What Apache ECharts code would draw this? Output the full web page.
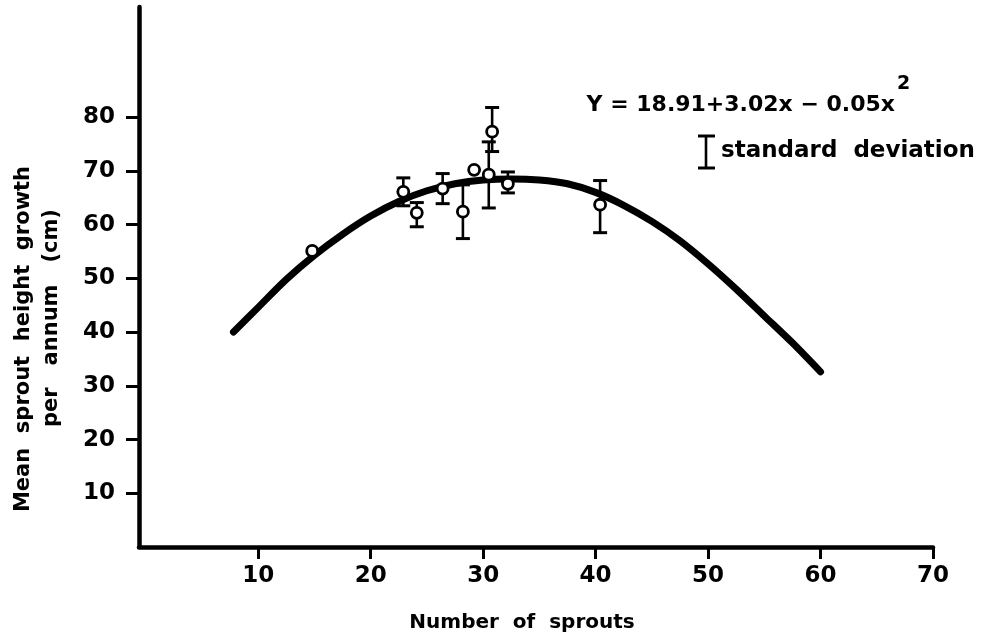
<!DOCTYPE html>
<html>
<head>
<meta charset="utf-8">
<script src="https://cdn.jsdelivr.net/npm/echarts@6/dist/echarts.min.js"></script>
<style>
  html, body { margin: 0; padding: 0; background: #fff; }
  #chart { width: 989px; height: 642px; }
</style>
</head>
<body>
<div id="chart"></div>
<script>
// fitted curve
var curveX = [7.8, 10, 12.5, 15, 17.5, 20, 22.5, 25, 27.5, 30, 32.5, 35, 37.5, 40, 42.5, 45, 47.5, 50, 52.5, 55, 57.5, 60];
var curveY = [40, 44.6, 49.8, 54.3, 58.2, 61.6, 64.3, 66.3, 67.6, 68.3, 68.5, 68.3, 67.6, 66.0, 63.6, 60.6, 57.0, 52.7, 48.0, 43.0, 38.0, 32.6];

// observed means and standard deviation bars (null = no bar drawn)
var pointX = [14.8, 22.9, 24.1, 26.4, 28.2, 29.2, 30.5, 30.8, 32.2, 40.4];
var pointY = [55.1, 66.1, 62.2, 66.7, 62.4, 70.2, 69.3, 77.3, 67.6, 63.7];
var sdLow  = [null, 63.5, 59.6, 63.9, 57.4, null, 63.1, 73.6, 65.9, 58.5];
var sdHigh = [null, 68.7, 64.1, 69.5, 67.4, null, 75.4, 81.8, 69.8, 68.2];

var xTicks = [10, 20, 30, 40, 50, 60, 70];
var yTicks = [10, 20, 30, 40, 50, 60, 70, 80];

var FONT = 'DejaVu Sans';

var chart = echarts.init(document.getElementById('chart'));

var curveData = curveX.map(function (x, i) { return [x, curveY[i]]; });
var pointData = pointX.map(function (x, i) { return [x, pointY[i]]; });
var barData = [];
pointX.forEach(function (x, i) {
    if (sdLow[i] != null) barData.push([x, sdLow[i], sdHigh[i]]);
});

function renderBar(params, api) {
    var lo = api.coord([api.value(0), api.value(1)]);
    var hi = api.coord([api.value(0), api.value(2)]);
    var w = 7;
    return {
        type: 'group',
        children: [
            { type: 'line', shape: { x1: lo[0], y1: lo[1], x2: hi[0], y2: hi[1] }, style: { stroke: '#000', lineWidth: 2.6 } },
            { type: 'line', shape: { x1: lo[0] - w, y1: lo[1], x2: lo[0] + w, y2: lo[1] }, style: { stroke: '#000', lineWidth: 3 } },
            { type: 'line', shape: { x1: hi[0] - w, y1: hi[1], x2: hi[0] + w, y2: hi[1] }, style: { stroke: '#000', lineWidth: 3 } }
        ]
    };
}

var option = {
    animation: false,
    backgroundColor: '#fff',
    grid: { left: 139, right: 56, top: 7, bottom: 95, containLabel: false },
    xAxis: {
        type: 'value',
        min: -0.6,
        max: 70,
        splitLine: { show: false },
        axisLine: { onZero: false, lineStyle: { color: '#000', width: 4.5 } },
        axisTick: { customValues: xTicks, length: 12, lineStyle: { color: '#000', width: 3 } },
        axisLabel: { customValues: xTicks, margin: 18, color: '#000', fontFamily: FONT, fontWeight: 'bold', fontSize: 23 }
    },
    yAxis: {
        type: 'value',
        min: 0,
        max: 100.5,
        splitLine: { show: false },
        axisLine: { onZero: false, lineStyle: { color: '#000', width: 4.5 } },
        axisTick: { customValues: yTicks, length: 13, lineStyle: { color: '#000', width: 3 } },
        axisLabel: { customValues: yTicks, margin: 24, color: '#000', fontFamily: FONT, fontWeight: 'bold', fontSize: 23 }
    },
    series: [
        {
            type: 'line',
            data: curveData,
            smooth: 0.3,
            showSymbol: false,
            lineStyle: { color: '#000', width: 7, cap: 'round' },
            z: 2
        },
        {
            type: 'custom',
            renderItem: renderBar,
            data: barData,
            z: 3
        },
        {
            type: 'scatter',
            data: pointData,
            symbol: 'circle',
            symbolSize: 11,
            itemStyle: { color: '#fff', opacity: 1, borderColor: '#000', borderWidth: 2.8 },
            z: 4
        }
    ],
    graphic: [
        {
            type: 'text', x: 895, y: 105,
            style: { text: 'Y = 18.91+3.02x − 0.05x', fontFamily: FONT, fontWeight: 'bold', fontSize: 22, fill: '#000', align: 'right', verticalAlign: 'middle' }
        },
        {
            type: 'text', x: 897, y: 84,
            style: { text: '2', fontFamily: FONT, fontWeight: 'bold', fontSize: 19, fill: '#000', align: 'left', verticalAlign: 'middle' }
        },
        { type: 'line', shape: { x1: 706, y1: 136, x2: 706, y2: 168 }, style: { stroke: '#000', lineWidth: 2.6 } },
        { type: 'line', shape: { x1: 698, y1: 136, x2: 715, y2: 136 }, style: { stroke: '#000', lineWidth: 3 } },
        { type: 'line', shape: { x1: 698, y1: 168, x2: 715, y2: 168 }, style: { stroke: '#000', lineWidth: 3 } },
        {
            type: 'text', x: 721, y: 151,
            style: { text: 'standard  deviation', fontFamily: FONT, fontWeight: 'bold', fontSize: 23, fill: '#000', verticalAlign: 'middle' }
        },
        {
            type: 'text', x: 522, y: 623,
            style: { text: 'Number  of  sprouts', fontFamily: FONT, fontWeight: 'bold', fontSize: 20, fill: '#000', align: 'center', verticalAlign: 'middle' }
        },
        {
            type: 'text', x: 24, y: 339, rotation: Math.PI / 2,
            style: { text: 'Mean  sprout  height  growth', fontFamily: FONT, fontWeight: 'bold', fontSize: 21, fill: '#000', align: 'center', verticalAlign: 'middle' }
        },
        {
            type: 'text', x: 52, y: 318, rotation: Math.PI / 2,
            style: { text: 'per   annum   (cm)', fontFamily: FONT, fontWeight: 'bold', fontSize: 21, fill: '#000', align: 'center', verticalAlign: 'middle' }
        }
    ]
};

chart.setOption(option);
</script>
</body>
</html>
